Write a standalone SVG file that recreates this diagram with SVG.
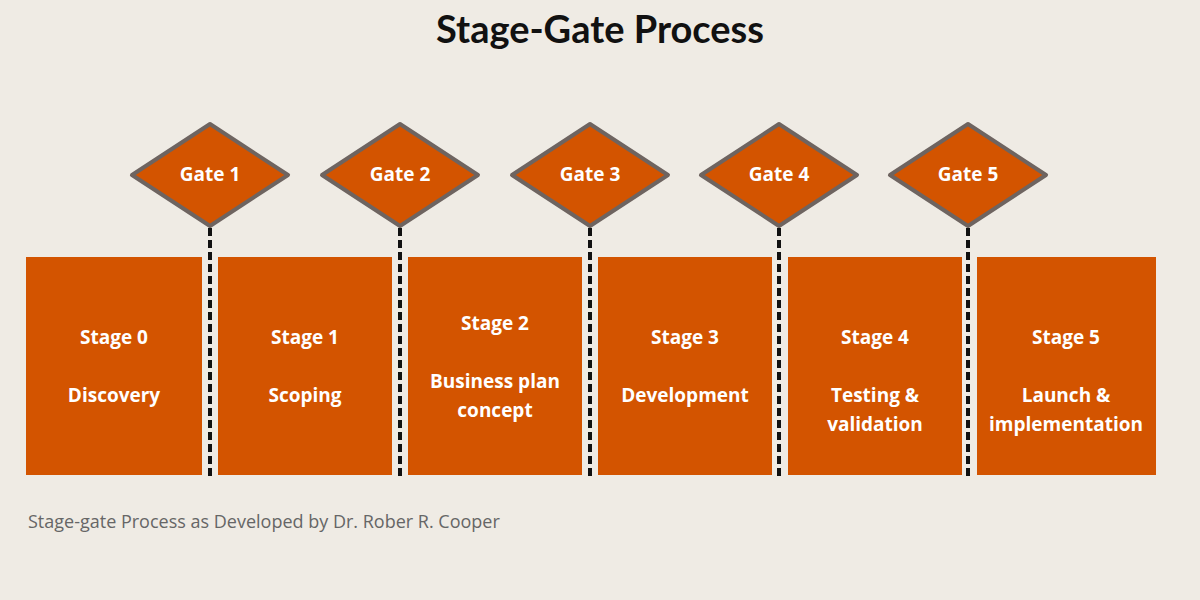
<svg xmlns="http://www.w3.org/2000/svg" width="1200" height="600" viewBox="0 0 1200 600">
<style>
.st{fill:#D35400}
.gt{fill:#D35400;stroke:#6E6460;stroke-width:4;stroke-linejoin:round}
.t{font-family:"Open Sans","Noto Sans",sans-serif;font-weight:700;font-size:19px;fill:#fff;text-anchor:middle}
.d{stroke:#111;stroke-width:4;stroke-dasharray:8 4}
</style>
<rect width="1200" height="600" fill="#EFEBE4"/>
<text x="600" y="43" text-anchor="middle" font-family="Lato,'Open Sans',sans-serif" font-weight="700" font-size="38" fill="#111">Stage-Gate Process</text>
<g id="connectors">
<line class="d" x1="210" y1="228" x2="210" y2="476"/>
<line class="d" x1="400" y1="228" x2="400" y2="476"/>
<line class="d" x1="590" y1="228" x2="590" y2="476"/>
<line class="d" x1="779" y1="228" x2="779" y2="476"/>
<line class="d" x1="968" y1="228" x2="968" y2="476"/>
</g>
<g id="stage0"><rect class="st" x="26" y="257" width="176" height="218"/><text class="t" x="114" y="344">Stage 0</text><text class="t" x="114" y="402">Discovery</text></g>
<g id="stage1"><rect class="st" x="218" y="257" width="174" height="218"/><text class="t" x="305" y="344">Stage 1</text><text class="t" x="305" y="402">Scoping</text></g>
<g id="stage2"><rect class="st" x="408" y="257" width="174" height="218"/><text class="t" x="495" y="330">Stage 2</text><text class="t" x="495" y="388">Business plan</text><text class="t" x="495" y="417">concept</text></g>
<g id="stage3"><rect class="st" x="598" y="257" width="174" height="218"/><text class="t" x="685" y="344">Stage 3</text><text class="t" x="685" y="402">Development</text></g>
<g id="stage4"><rect class="st" x="788" y="257" width="174" height="218"/><text class="t" x="875" y="344">Stage 4</text><text class="t" x="875" y="402">Testing &amp;</text><text class="t" x="875" y="431">validation</text></g>
<g id="stage5"><rect class="st" x="977" y="257" width="179" height="218"/><text class="t" x="1066" y="344">Stage 5</text><text class="t" x="1066" y="402">Launch &amp;</text><text class="t" x="1066" y="431">implementation</text></g>
<g id="gate1"><polygon class="gt" points="210,124 288,175 210,226 132,175"/><text class="t" x="210" y="181">Gate 1</text></g>
<g id="gate2"><polygon class="gt" points="400,124 478,175 400,226 322,175"/><text class="t" x="400" y="181">Gate 2</text></g>
<g id="gate3"><polygon class="gt" points="590,124 668,175 590,226 512,175"/><text class="t" x="590" y="181">Gate 3</text></g>
<g id="gate4"><polygon class="gt" points="779,124 857,175 779,226 701,175"/><text class="t" x="779" y="181">Gate 4</text></g>
<g id="gate5"><polygon class="gt" points="968,124 1046,175 968,226 890,175"/><text class="t" x="968" y="181">Gate 5</text></g>
<text x="28" y="528" font-family="'Open Sans','Noto Sans',sans-serif" font-size="18" fill="#666">Stage-gate Process as Developed by Dr. Rober R. Cooper</text>
</svg>
